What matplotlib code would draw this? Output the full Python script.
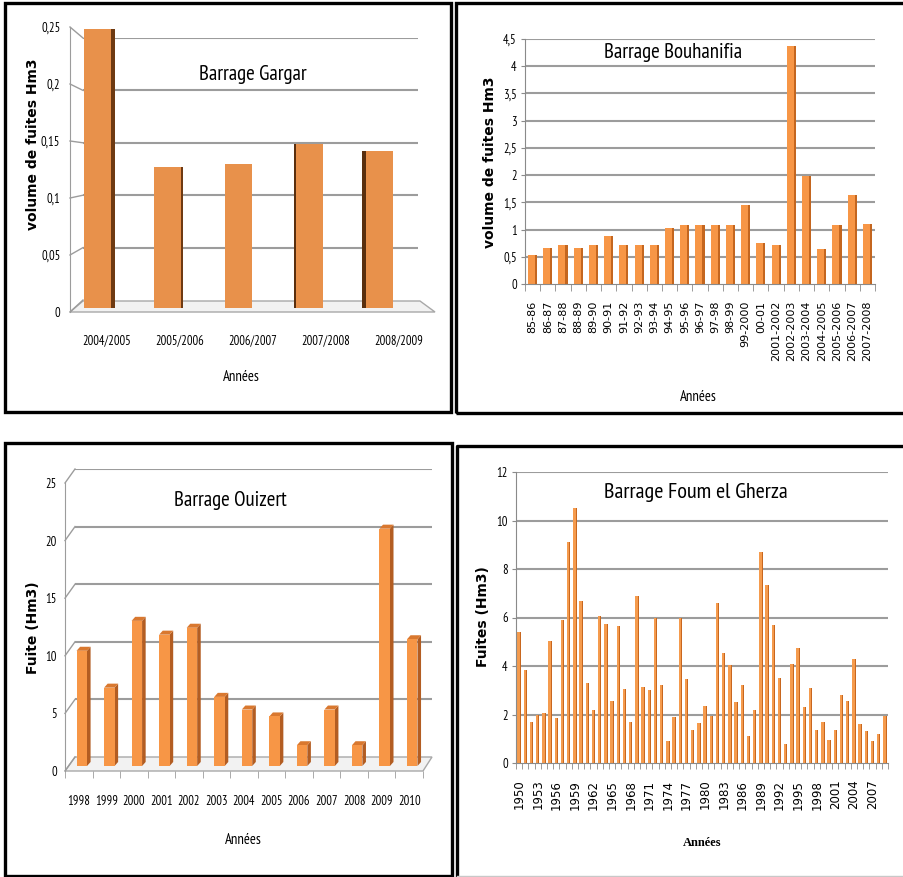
import matplotlib
matplotlib.use("Agg")
import matplotlib.pyplot as plt
from matplotlib import font_manager
from matplotlib.patches import Rectangle, Polygon
from matplotlib.lines import Line2D

W, H = 904, 877

# Barrage Gargar
gargar_years = ["2004/2005", "2005/2006", "2006/2007", "2007/2008", "2008/2009"]
gargar_fuites = [0.245, 0.124, 0.126, 0.144, 0.138]
gargar_yticks = [0, 0.05, 0.1, 0.15, 0.2, 0.25]

# Barrage Bouhanifia
bouha_years = ["85-86", "86-87", "87-88", "88-89", "89-90", "90-91", "91-92",
               "92-93", "93-94", "94-95", "95-96", "96-97", "97-98", "98-99",
               "99-2000", "00-01", "2001-2002", "2002-2003", "2003-2004",
               "2004-2005", "2005-2006", "2006-2007", "2007-2008"]
bouha_fuites = [0.54, 0.66, 0.72, 0.66, 0.72, 0.88, 0.72, 0.72, 0.72, 1.02,
                1.09, 1.08, 1.08, 1.08, 1.46, 0.75, 0.72, 4.37, 1.99, 0.64,
                1.08, 1.64, 1.11]
bouha_yticks = [0, 0.5, 1, 1.5, 2, 2.5, 3, 3.5, 4, 4.5]

# Barrage Ouizert
ouiz_years = ["1998", "1999", "2000", "2001", "2002", "2003", "2004",
              "2005", "2006", "2007", "2008", "2009", "2010"]
ouiz_fuites = [10.0, 6.8, 12.6, 11.4, 12.0, 6.0, 4.9, 4.3, 1.8, 4.9, 1.8, 20.6, 11.0]
ouiz_yticks = [0, 5, 10, 15, 20, 25]

# Barrage Foum el Gherza
foum_years = list(range(1950, 2010))
foum_fuites = [5.4, 3.85, 1.7, 2.0, 2.05, 5.05, 1.85, 5.9, 9.1, 10.5,
               6.7, 3.3, 2.2, 6.05, 5.75, 2.55, 5.65, 3.05, 1.7, 6.9,
               3.15, 3.0, 6.0, 3.2, 0.9, 1.9, 6.0, 3.45, 1.35, 1.65,
               2.35, 1.95, 6.6, 4.55, 4.05, 2.5, 3.2, 1.1, 2.2, 8.7,
               7.35, 5.7, 3.5, 0.8, 4.1, 4.75, 2.3, 3.1, 1.35, 1.7,
               0.95, 1.35, 2.8, 2.55, 4.3, 1.6, 1.3, 0.9, 1.2, 1.95]
foum_yticks = [0, 2, 4, 6, 8, 10, 12]

avail = {f.name for f in font_manager.fontManager.ttflist}
NARROW = next(n for n in ["PT Sans Narrow", "Roboto Condensed", "Archivo Narrow", "Liberation Sans"]
              if n in avail)
WIDE = "DejaVu Sans"
GRID = "#9c9c9c"
AXIS = "#8a8a8a"


def px_rect(l, t, r, b):
    return [l / W, 1 - b / H, (r - l) / W, (b - t) / H]


def fx(x):
    return x / W


def fy(y):
    return 1 - y / H


def comma(v):
    return f"{v:g}".replace(".", ",")


fig = plt.figure(figsize=(W / 100, H / 100), dpi=100)
fig.patch.set_facecolor("white")


def wall(front, back, ticks):
    # slanted lines of the left wall, from the front axis to the back grid
    inv = fig.transFigure.inverted()
    for v in ticks:
        p1 = inv.transform(front.transData.transform((front.get_xlim()[0], v)))
        p2 = inv.transform(back.transData.transform((back.get_xlim()[0], v)))
        back.add_line(Line2D([p1[0], p2[0]], [p1[1], p2[1]], color=GRID, lw=1.0,
                             transform=fig.transFigure, clip_on=False))


def floor(ax, pts):
    ax.add_patch(Polygon([(fx(x), fy(y)) for x, y in pts], closed=True,
                         facecolor="#f2f2f2", edgecolor="#a8a8a8", lw=1.0,
                         transform=fig.transFigure, clip_on=False))


# ---------------- Barrage Gargar (3D columns) ----------------
back1 = fig.add_axes(px_rect(83, 38, 418, 300))
back1.set_ylim(0, 0.25)
back1.set_xlim(0, 1)
for v in gargar_yticks[1:]:
    back1.axhline(v, color=GRID, lw=1.5)
back1.axis("off")

front1 = fig.add_axes(px_rect(70, 27, 435, 312))
front1.set_ylim(0, 0.25)
front1.set_xlim(-0.5, len(gargar_years) - 0.5)
front1.patch.set_visible(False)

wall(front1, back1, gargar_yticks)
floor(back1, [(70, 312), (83, 301), (420, 301), (435, 312)])

mid1 = fig.add_axes(px_rect(62, 23, 415, 308))
mid1.set_ylim(0, 0.25)
mid1.set_xlim(-0.5, len(gargar_years) - 0.5)
mid1.axis("off")
xs = list(range(len(gargar_years)))
w1 = 0.38
for i, v in enumerate(gargar_fuites):
    side = (2 - i) * 0.028
    if side > 0:
        mid1.bar(i + w1 / 2 + side / 2, v, width=side, color="#6e3a12")
    elif side < 0:
        mid1.bar(i - w1 / 2 + side / 2, v, width=-side, color="#5a2f0e")
mid1.bar(xs, gargar_fuites, width=w1, color="#e8914b")

for s in ["top", "right", "bottom"]:
    front1.spines[s].set_visible(False)
front1.spines["left"].set_color(GRID)
front1.set_yticks(gargar_yticks, [comma(v) for v in gargar_yticks],
                  fontfamily=NARROW, fontsize=9)
front1.set_xticks(xs, gargar_years, fontfamily=NARROW, fontsize=9)
front1.tick_params(axis="y", length=0, pad=7)
front1.tick_params(axis="x", length=0, pad=16)
fig.text(fx(33), fy(144), "volume de fuites Hm3", rotation=90, ha="center", va="center",
         fontfamily=WIDE, fontweight="bold", fontsize=10)
fig.text(fx(253), fy(75), "Barrage Gargar", ha="center", va="center",
         fontfamily=NARROW, fontsize=15)
fig.text(fx(241), fy(377), "Années", ha="center", va="center",
         fontfamily=NARROW, fontsize=10.5)

# ---------------- Barrage Bouhanifia ----------------
ax2 = fig.add_axes(px_rect(525, 39, 875, 284))
ax2.set_ylim(0, 4.5)
ax2.set_xlim(-0.5, len(bouha_years) - 0.5)
for v in bouha_yticks[1:]:
    ax2.axhline(v, color=GRID, lw=1.5, zorder=0)
xb = list(range(len(bouha_years)))
ax2.bar(xb, bouha_fuites, width=0.6, color="#f79646", zorder=2)
ax2.bar([x + 0.23 for x in xb], bouha_fuites, width=0.14, color="#c4661f", zorder=3)
for s in ["top", "right"]:
    ax2.spines[s].set_visible(False)
ax2.spines["left"].set_color(AXIS)
ax2.spines["bottom"].set_color(AXIS)
ax2.set_yticks(bouha_yticks, [comma(v) for v in bouha_yticks],
               fontfamily=NARROW, fontsize=9)
ax2.set_xticks(xb, bouha_years, rotation=90, fontfamily=WIDE, fontsize=8)
ax2.set_xticks([x - 0.5 for x in range(len(bouha_years) + 1)], minor=True)
ax2.tick_params(axis="x", which="major", length=0, pad=12)
ax2.tick_params(axis="x", which="minor", length=5, color=AXIS)
ax2.tick_params(axis="y", length=3, color=AXIS, pad=3)
fig.text(fx(490), fy(162), "volume de fuites Hm3", rotation=90, ha="center", va="center",
         fontfamily=WIDE, fontweight="bold", fontsize=10)
fig.text(fx(673), fy(52), "Barrage Bouhanifia", ha="center", va="center",
         fontfamily=NARROW, fontsize=15)
fig.text(fx(698), fy(397), "Années", ha="center", va="center",
         fontfamily=NARROW, fontsize=10.5)

# ---------------- Barrage Ouizert (3D columns) ----------------
back3 = fig.add_axes(px_rect(75, 469, 432, 757))
back3.set_ylim(0, 25)
back3.set_xlim(0, 1)
for v in ouiz_yticks[1:]:
    back3.axhline(v, color=GRID, lw=1.5)
back3.axis("off")

front3 = fig.add_axes(px_rect(65, 483, 423, 771))
front3.set_ylim(0, 25)
front3.set_xlim(-0.5, len(ouiz_years) - 0.5)
front3.patch.set_visible(False)

wall(front3, back3, ouiz_yticks)
floor(back3, [(65, 771), (75, 757), (432, 757), (423, 771)])

mid3 = fig.add_axes(px_rect(68, 478, 426, 766))
mid3.set_ylim(0, 25)
mid3.set_xlim(-0.5, len(ouiz_years) - 0.5)
mid3.axis("off")
xo = list(range(len(ouiz_years)))
w3, dx, dy = 0.38, 0.13, 0.35
for i, v in enumerate(ouiz_fuites):
    mid3.add_patch(Polygon([(i + w3 / 2, 0), (i + w3 / 2 + dx, dy),
                            (i + w3 / 2 + dx, v + dy), (i + w3 / 2, v)],
                           closed=True, facecolor="#b35d22", edgecolor="none"))
    mid3.add_patch(Polygon([(i - w3 / 2, v), (i + w3 / 2, v),
                            (i + w3 / 2 + dx, v + dy), (i - w3 / 2 + dx, v + dy)],
                           closed=True, facecolor="#d9782f", edgecolor="none"))
mid3.bar(xo, ouiz_fuites, width=w3, color="#f79646")

for s in ["top", "right", "bottom"]:
    front3.spines[s].set_visible(False)
front3.spines["left"].set_color(GRID)
front3.set_yticks(ouiz_yticks, [str(v) for v in ouiz_yticks],
                  fontfamily=NARROW, fontsize=9)
front3.set_xticks(xo, ouiz_years, fontfamily=NARROW, fontsize=9)
front3.set_xticks([x - 0.5 for x in range(len(ouiz_years) + 1)], minor=True)
front3.tick_params(axis="y", length=0, pad=6)
front3.tick_params(axis="x", which="major", length=0, pad=17)
front3.tick_params(axis="x", which="minor", length=5, color=GRID)
fig.text(fx(33), fy(628), "Fuite (Hm3)", rotation=90, ha="center", va="center",
         fontfamily=WIDE, fontweight="bold", fontsize=10)
fig.text(fx(230), fy(500), "Barrage Ouizert", ha="center", va="center",
         fontfamily=NARROW, fontsize=15)
fig.text(fx(243), fy(840), "Années", ha="center", va="center",
         fontfamily=NARROW, fontsize=10.5)

# ---------------- Barrage Foum el Gherza ----------------
ax4 = fig.add_axes(px_rect(516, 472, 888, 763))
ax4.set_ylim(0, 12)
ax4.set_xlim(-0.5, len(foum_years) - 0.5)
for v in foum_yticks[1:]:
    ax4.axhline(v, color=GRID, lw=1.5, zorder=0)
xf = list(range(len(foum_years)))
ax4.bar(xf, foum_fuites, width=0.55, color="#f59b4d", zorder=2)
ax4.bar([x + 0.2 for x in xf], foum_fuites, width=0.15, color="#c8671f", zorder=3)
for s in ["top", "right"]:
    ax4.spines[s].set_visible(False)
ax4.spines["left"].set_color(AXIS)
ax4.spines["bottom"].set_color(AXIS)
ax4.set_yticks(foum_yticks, [str(v) for v in foum_yticks],
               fontfamily=NARROW, fontsize=9)
ax4.set_xticks(xf[::3], [str(y) for y in foum_years[::3]], rotation=90,
               fontfamily=WIDE, fontsize=8.5)
ax4.set_xticks([x - 0.5 for x in range(len(foum_years) + 1)], minor=True)
ax4.tick_params(axis="x", which="major", length=0, pad=12)
ax4.tick_params(axis="x", which="minor", length=4, color=AXIS)
ax4.tick_params(axis="y", length=3, color=AXIS, pad=3)
fig.text(fx(483), fy(617), "Fuites (Hm3)", rotation=90, ha="center", va="center",
         fontfamily=WIDE, fontweight="bold", fontsize=10)
fig.text(fx(696), fy(493), "Barrage Foum el Gherza", ha="center", va="center",
         fontfamily=NARROW, fontsize=16)
fig.text(fx(702), fy(843), "Années", ha="center", va="center",
         fontfamily="Liberation Serif", fontweight="bold", fontsize=9)

# panel frames
for l, t, r, b in [(5, 3, 451, 412), (456, 3, 912, 413), (5, 443, 452, 876)]:
    fig.add_artist(Rectangle((fx(l), fy(b)), (r - l) / W, (b - t) / H, fill=False,
                             edgecolor="black", lw=2.4, transform=fig.transFigure))
fig.add_artist(Line2D([fx(457), fx(457), fx(910)], [fy(880), fy(446), fy(446)],
                      color="black", lw=2.4, transform=fig.transFigure))
fig.add_artist(Line2D([fx(457), fx(904)], [fy(876), fy(876)],
                      color="#c8c8c8", lw=1.0, transform=fig.transFigure))

fig.savefig("out.png", dpi=100)
